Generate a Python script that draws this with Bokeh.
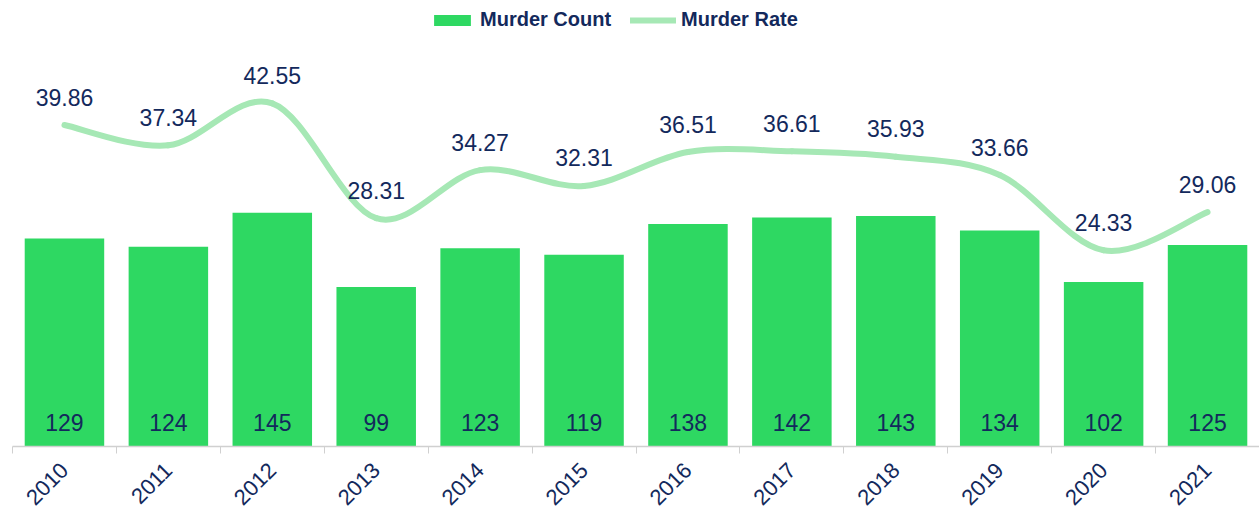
import numpy as np
from math import pi
from bokeh.plotting import figure
from bokeh.models import Range1d, FixedTicker, Legend, LegendItem, ColumnDataSource
from bokeh.core.properties import value
from bokeh.embed import file_html
from bokeh.resources import INLINE

years = ["2010", "2011", "2012", "2013", "2014", "2015", "2016", "2017", "2018", "2019", "2020", "2021"]
murder_count = [129, 124, 145, 99, 123, 119, 138, 142, 143, 134, 102, 125]
murder_rate = [39.86, 37.34, 42.55, 28.31, 34.27, 32.31, 36.51, 36.61, 35.93, 33.66, 24.33, 29.06]

BAR = "#2ED862"
LINE = "#A6E8B5"
NAVY = "#13295C"
FONT = "Liberation Sans"

n = len(years)
xs = np.arange(n, dtype=float)
rate = np.array(murder_rate, dtype=float)

p = figure(width=1259, height=519, output_backend="svg", toolbar_location=None,
           x_range=Range1d(-0.5, n - 0.5), y_range=Range1d(0, 276.7),
           min_border_left=12, min_border_right=0, min_border_top=0, min_border_bottom=73)
p.extra_y_ranges = {"rate": Range1d(0, 55.3)}
p.outline_line_color = None
p.xgrid.visible = False
p.ygrid.visible = False
p.yaxis.visible = False

src = ColumnDataSource(dict(x=xs, count=murder_count, rate=murder_rate,
                            count_lbl=[str(v) for v in murder_count],
                            rate_lbl=["%.2f" % v for v in murder_rate]))

bars = p.vbar(x="x", top="count", width=0.765, source=src, fill_color=BAR, line_color=None)

# smooth curve (Catmull-Rom -> cubic Bezier) built from the data points
x0, y0, x1, y1, cx0, cy0, cx1, cy1 = ([] for _ in range(8))
for i in range(n - 1):
    a = max(i - 1, 0)
    d = min(i + 2, n - 1)
    x0.append(xs[i]); y0.append(rate[i])
    x1.append(xs[i + 1]); y1.append(rate[i + 1])
    cx0.append(xs[i] + (xs[i + 1] - xs[a]) / 6.0)
    cy0.append(rate[i] + (rate[i + 1] - rate[a]) / 6.0)
    cx1.append(xs[i + 1] - (xs[d] - xs[i]) / 6.0)
    cy1.append(rate[i + 1] - (rate[d] - rate[i]) / 6.0)
curve = p.bezier(x0=x0, y0=y0, x1=x1, y1=y1, cx0=cx0, cy0=cy0, cx1=cx1, cy1=cy1,
                 line_color=LINE, line_width=6, line_cap="round", y_range_name="rate")

p.text(x="x", y=0, text="count_lbl", source=src, text_align="center", text_baseline="middle",
       y_offset=-24, text_font=value(FONT), text_font_size="23px", text_color=NAVY)
p.text(x="x", y="rate", text="rate_lbl", source=src, text_align="center", text_baseline="middle",
       y_offset=-28, text_font=value(FONT), text_font_size="23px", text_color=NAVY,
       y_range_name="rate")

ax = p.xaxis[0]
ax.ticker = FixedTicker(ticks=list(xs), minor_ticks=list(xs - 0.5) + [xs[-1] + 0.5])
ax.major_label_overrides = {i: y for i, y in enumerate(years)}
ax.major_label_orientation = pi / 4
ax.major_tick_out = 0
ax.major_tick_in = 0
ax.minor_tick_out = 7
ax.minor_tick_in = 0
ax.minor_tick_line_color = "#D0D0D0"
ax.axis_line_color = "#D0D0D0"
ax.axis_line_width = 1.5
ax.major_label_standoff = 13
ax.major_label_text_font = FONT
ax.major_label_text_font_size = "22px"
ax.major_label_text_color = NAVY

legend = Legend(items=[LegendItem(label="Murder Count", renderers=[bars]),
                       LegendItem(label="Murder Rate", renderers=[curve])],
                orientation="horizontal", location=(417, 415),
                label_text_font=FONT, label_text_font_size="20px", label_text_font_style="bold",
                label_text_color=NAVY, glyph_width=46, glyph_height=14, label_standoff=5,
                spacing=19, padding=2, margin=0, border_line_color=None, background_fill_alpha=0)
p.add_layout(legend, "center")

open("out.html", "w").write(file_html(p, INLINE))
